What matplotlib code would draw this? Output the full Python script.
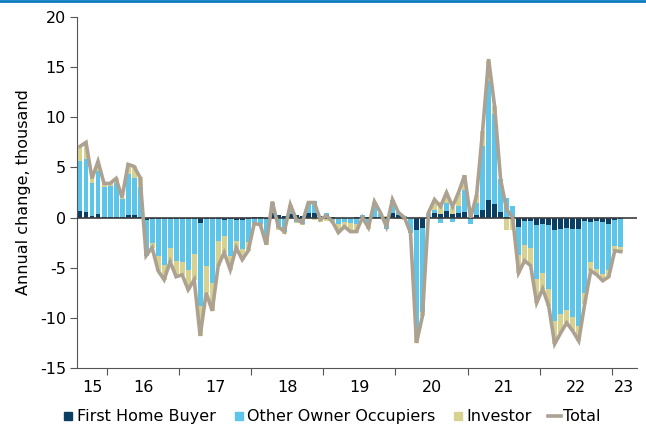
import numpy as np
import pandas as pd
import matplotlib
matplotlib.use('Agg')
import matplotlib.pyplot as plt
from matplotlib.lines import Line2D

plt.rcParams['axes.unicode_minus'] = False

# monthly data, Aug 2015 - Feb 2023 (annual change, thousand)
months = pd.date_range('2015-08-01', periods=91, freq='MS')

first_home_buyer = [
    0.7, 0.6, 0.2, 0.4, 0.1,
    0.1, 0.1, 0.1, 0.3, 0.3, 0.1, -0.2, -0.1, -0.1, -0.1, -0.1, -0.1,
    -0.1, -0.1, -0.1, -0.5, -0.1, -0.1, -0.1, -0.2, -0.1, -0.2, -0.2, -0.1,
    0.1, 0.1, -0.1, 0.5, 0.3, 0.2, 0.4, 0.3, 0.2, 0.5, 0.5, 0.2,
    0.3, 0.1, 0.0, 0.0, 0.0, 0.1, 0.1, 0.1, 0.1, 0.1, 0.1, 0.5,
    0.3, 0.1, 0.0, -1.2, -1.0, 0.1, 0.5, 0.4, 0.7, 0.4, 0.5, 0.6,
    0.0, 0.3, 0.8, 1.8, 1.4, 0.6, 0.1, 0.1, -0.9, -0.3, -0.3, -0.7,
    -0.6, -0.7, -1.2, -1.1, -1.0, -1.1, -1.1, -0.3, -0.4, -0.3, -0.4, -0.6,
    -0.2, -0.1,
]
other_owner_occupiers = [
    4.9, 5.2, 3.2, 4.2, 2.9,
    3.0, 3.3, 1.8, 4.0, 3.6, 2.9, -3.6, -2.4, -3.7, -4.6, -2.9, -4.2,
    -4.3, -5.1, -3.5, -8.3, -4.7, -6.4, -2.2, -1.6, -3.7, -2.1, -2.9, -2.3,
    -0.5, -0.6, -2.0, 1.0, -1.0, -1.4, 0.8, -0.4, -0.6, 1.0, 1.2, -0.2,
    0.2, -0.2, -0.6, -0.4, -0.5, -0.6, 0.2, -0.6, 1.3, 0.3, -1.1, 1.3,
    0.3, 0.1, -1.5, -9.9, -8.4, 0.3, 0.3, -0.5, 0.8, -0.4, 0.7, 2.1,
    -0.6, 1.2, 6.3, 11.8, 8.9, 3.2, 1.9, 1.1, -2.8, -2.4, -2.7, -5.4,
    -4.9, -6.4, -9.1, -8.5, -8.2, -8.8, -9.7, -7.2, -4.0, -4.8, -5.2, -4.6,
    -2.6, -2.8,
]
investor = [
    1.5, 1.7, 0.5, 1.0, 0.4,
    0.3, 0.5, 0.1, 1.0, 1.2, 1.0, 0.0, -0.5, -1.5, -1.5, -1.4, -1.6,
    -1.3, -2.0, -2.6, -3.0, -2.7, -2.8, -2.5, -1.7, -1.4, -0.7, -1.1, -0.9,
    -0.2, -0.2, -0.6, 0.1, -0.2, -0.2, 0.1, -0.1, -0.1, 0.0, -0.2, -0.2,
    -0.3, -0.3, -0.9, -0.5, -0.9, -0.9, -0.3, -0.5, 0.2, 0.1, 0.1, 0.0,
    -0.1, -0.2, 0.0, -1.4, -0.4, 0.1, 1.0, 1.2, 1.0, 0.7, 1.3, 1.5,
    0.6, 0.8, 1.5, 2.0, 0.8, 0.0, -1.2, -1.2, -1.8, -1.6, -1.8, -2.4,
    -1.6, -1.7, -2.3, -1.9, -1.3, -1.4, -1.5, -1.1, -0.9, -0.6, -0.7, -0.7,
    -0.5, -0.5,
]
total = [
    7.1, 7.5, 3.9, 5.6, 3.4,
    3.4, 3.9, 2.0, 5.3, 5.1, 4.0, -3.8, -3.0, -5.3, -6.2, -4.4, -5.9,
    -5.7, -7.2, -6.2, -11.8, -7.5, -9.3, -4.8, -3.5, -5.2, -3.0, -4.2, -3.3,
    -0.6, -0.7, -2.7, 1.6, -0.9, -1.4, 1.3, -0.2, -0.5, 1.5, 1.5, -0.2,
    0.2, -0.4, -1.5, -0.9, -1.4, -1.4, 0.0, -1.0, 1.6, 0.5, -0.9, 1.8,
    0.5, 0.0, -1.5, -12.5, -9.8, 0.5, 1.8, 1.1, 2.5, 1.1, 2.5, 4.2,
    0.0, 2.2, 8.6, 15.8, 11.1, 3.8, 0.8, 0.0, -5.5, -4.3, -4.8, -8.5,
    -7.1, -8.8, -12.6, -11.5, -10.5, -11.3, -12.3, -8.6, -5.3, -5.7, -6.3, -5.9,
    -3.3, -3.4,
]

years = ['15', '16', '17', '18', '19', '20', '21', '22', '23']

series = [
    ('First Home Buyer', first_home_buyer, '#0a3f63'),
    ('Other Owner Occupiers', other_owner_occupiers, '#5cc5e9'),
    ('Investor', investor, '#d7d28f'),
]
total_color = '#ada291'

x = np.arange(len(months))

fig = plt.figure(figsize=(6.46, 4.28), dpi=100)
fig.add_artist(Line2D([0, 1], [0.998, 0.998], color='#0a7cc0', lw=2,
                      transform=fig.transFigure))
ax = fig.add_axes([77 / 646, 60 / 428, 560 / 646, 351 / 428])

# excel-style stacking: positives up from zero, negatives down from zero
pos_bottom = np.zeros(len(x))
neg_bottom = np.zeros(len(x))
for label, vals, color in series:
    vals = np.array(vals)
    bottom = np.where(vals >= 0, pos_bottom, neg_bottom)
    ax.bar(x, vals, bottom=bottom, width=0.82, color=color, linewidth=0, zorder=2)
    pos_bottom += np.clip(vals, 0, None)
    neg_bottom += np.clip(vals, None, 0)

ax.axhline(0, color='#3c3c3c', lw=1.2, zorder=3)
ax.plot(x, total, color=total_color, lw=2.6, zorder=4, solid_joinstyle='miter')

ax.set_ylim(-15, 20)
ax.set_yticks(range(-15, 21, 5))
ax.set_xlim(-0.5, 92.7)

# year boundaries as ticks, labels centred on each year
jan_idx = [i for i, m in enumerate(months) if m.month == 1]
ax.set_xticks([i - 0.5 for i in jan_idx])
ax.set_xticklabels([])
bounds = [-0.5] + [i - 0.5 for i in jan_idx] + [92.7]
centres = [(a + b) / 2 for a, b in zip(bounds[:-1], bounds[1:])]
ax.set_xticks(centres, minor=True)
ax.set_xticklabels(years, minor=True)
ax.tick_params(axis='x', which='minor', length=0, pad=9, labelsize=11.5)
ax.tick_params(axis='x', which='major', length=5, color='#555555')
ax.tick_params(axis='y', length=5, color='#555555', labelsize=11.5, pad=3)

for s in ['top', 'right']:
    ax.spines[s].set_visible(False)
for s in ['left', 'bottom']:
    ax.spines[s].set_color('#555555')

ax.set_ylabel('Annual change, thousand', fontsize=11.5, labelpad=6)

handles = [Line2D([], [], marker='s', ls='none', color=c, markersize=6) for _, _, c in series]
handles.append(Line2D([], [], color=total_color, lw=2.6))
labels = [s[0] for s in series] + ['Total']
fig.legend(handles, labels, loc='center', bbox_to_anchor=(0.513, 0.026), ncol=4,
           frameon=False, fontsize=11.5, handlelength=0.8, handletextpad=0.15,
           columnspacing=1.0)

plt.savefig('out.png', dpi=100)
plt.close()
